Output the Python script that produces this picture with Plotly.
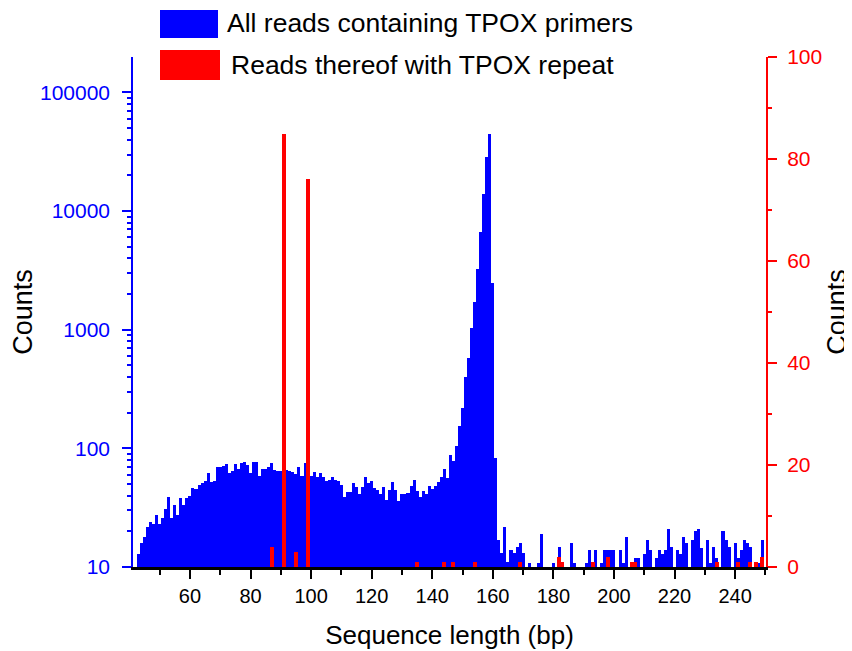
import plotly.graph_objects as go

# ---- data ----
bp_all = list(range(43, 250))
counts_all = [
    12.9, 16, 17.8, 21.8, 23.8, 22.9, 27.7, 22.9, 25.8, 30.9,        # 43-52
    38.7, 25.8, 33.4, 27.7, 37.8, 33.6, 38.5, 39.5, 46.4, 45.4,      # 53-62
    49.5, 51.2, 52.8, 62, 51.8, 52.8, 69, 69, 70.6, 74,               # 63-72
    62, 65, 74, 67, 75, 77, 73, 62, 77, 77,                           # 73-82
    59, 67.5, 67.5, 69, 75, 66, 65, 65, 65, 66,                       # 83-92
    64, 63, 61, 69, 58, 75, 62, 58, 63, 57,                           # 93-102
    62.5, 57, 52.8, 54.6, 57, 54.6, 53.5, 48.8, 39, 43,               # 103-112
    43, 51, 47, 41.6, 47, 57, 51, 52.8, 46.4, 44.3,                   # 113-122
    41.6, 47.3, 37, 44.3, 51.8, 45, 36.3, 41.6, 41, 42,               # 123-132
    48, 54.6, 43.7, 39, 44, 41.3, 48, 45.8, 48, 51.8,                 # 133-142
    57, 67, 56, 88.5, 78, 104, 153, 219, 400, 578,                    # 143-152
    1033, 1698, 3245, 6724, 13970, 28460, 44460, 2473, 83, 17,        # 153-162
    13, 21.8, 11, 13.9, 13, 14.8, 16, 13, None, 10.8,                 # 163-172
    None, None, 10.8, 19, None, None, None, 10.8, None, 14.8,         # 173-182
    10.9, None, None, 16, 10.8, None, None, None, 10.9, 13.9,         # 183-192
    10.9, 13.9, None, 10.9, 13.9, 13.9, 13.9, 13.9, None, 13.9,       # 193-202
    10.9, 18, None, 10.9, 12, 12, None, 12.9, 17, 13.9,               # 203-212
    None, 12, 13.9, 12.9, 13.9, 21, 14.8, None, 13.9, 12.9,           # 213-222
    18, 16, None, 17, 20, 21, 14.5, None, 17, 10.9,                   # 223-232
    14.8, 12, None, 20, 17, 14.8, None, 16, 12, 13.9,                 # 233-242
    17, 16, 14.8, None, 10.9, 10.9, 17,                               # 243-249
]
bp_repeat = [87, 91, 95, 99, 135, 144, 147, 154, 169, 182, 183, 193, 198,
             206, 207, 234, 241, 245, 247, 249]
counts_repeat = [4, 85, 3, 76, 1, 1, 1, 1, 1, 2, 1, 1, 2,
                 1, 1, 1, 1, 1, 1, 2]

log_tickvals = [10, 100, 1000, 10000, 100000]
log_ticktext = ["10", "100", "1000", "10000", "100000"]

name_all = "All reads containing TPOX primers"
name_repeat = "Reads thereof with TPOX repeat"

BLUE = "#0000FF"
RED = "#FF0000"
FONT = "Liberation Sans, Arial, sans-serif"

fig = go.Figure()
fig.add_trace(go.Bar(x=bp_all, y=counts_all, width=1.0, name=name_all,
                     marker=dict(color=BLUE, line=dict(width=0)),
                     yaxis="y"))
fig.add_trace(go.Bar(x=bp_repeat, y=counts_repeat, width=1.3, name=name_repeat,
                     marker=dict(color=RED, line=dict(width=0)),
                     yaxis="y2"))

# page offset of the plot div (body margin)
OFF = 8
W, H = 852 - OFF, 651 - OFF
# plot area in page pixels
PL, PR, PT, PB = 133, 766, 57, 567.5
L, R, T, B = PL - OFF, W - (PR - OFF), PT - OFF, H - (PB - OFF)
pw, ph = PR - PL, PB - PT

def px(x):
    return (x - PL) / pw

def py(y):
    return (PB - y) / ph

fig.update_layout(
    width=W, height=H,
    margin=dict(l=L, r=R, t=T, b=B, autoexpand=False),
    paper_bgcolor="white", plot_bgcolor="white",
    barmode="overlay", bargap=0,
    showlegend=False,
    font=dict(family=FONT, color="black"),
    xaxis=dict(
        range=[41.2, 250.2], tick0=0, dtick=20,
        showgrid=False, zeroline=False,
        showline=True, linecolor="black", linewidth=3,
        ticks="outside", ticklen=9, tickwidth=2, tickcolor="black",
        minor=dict(dtick=10, ticks="outside", ticklen=5, tickwidth=2,
                   tickcolor="black", showgrid=False),
        tickfont=dict(size=20, color="black"),
        title=dict(text="Sequence length (bp)", font=dict(size=26, color="black"),
                   standoff=20),
        automargin=False,
    ),
    yaxis=dict(
        type="log", range=[1, 5.299],
        tickmode="array", tickvals=log_tickvals, ticktext=log_ticktext,
        showgrid=False, zeroline=False,
        showline=True, linecolor=BLUE, linewidth=1.5,
        ticks="outside", ticklen=9, tickwidth=1.5, tickcolor=BLUE,
        minor=dict(dtick="D1", ticks="outside", ticklen=4, tickwidth=1.5,
                   tickcolor=BLUE, showgrid=False),
        tickfont=dict(size=21, color=BLUE),
        ticklabelstandoff=8,
        title=dict(text="Counts", font=dict(size=27, color="black"), standoff=6),
        automargin=False,
    ),
    yaxis2=dict(
        overlaying="y", side="right", range=[0, 100],
        tick0=0, dtick=20,
        showgrid=False, zeroline=False,
        showline=True, linecolor=RED, linewidth=2,
        ticks="outside", ticklen=9, tickwidth=1.5, tickcolor=RED,
        minor=dict(dtick=10, ticks="outside", ticklen=4, tickwidth=1.5,
                   tickcolor=RED, showgrid=False),
        tickfont=dict(size=21, color=RED),
        ticklabelstandoff=6,
        title=dict(text="Counts", font=dict(size=27, color="black"), standoff=8),
        automargin=False,
    ),
    shapes=[
        dict(type="rect", xref="paper", yref="paper",
             x0=px(160), x1=px(218), y0=py(38), y1=py(10),
             fillcolor=BLUE, line=dict(width=0), layer="above"),
        dict(type="rect", xref="paper", yref="paper",
             x0=px(160), x1=px(220), y0=py(80), y1=py(50),
             fillcolor=RED, line=dict(width=0), layer="above"),
    ],
    annotations=[
        dict(text=name_all, xref="paper", yref="paper", x=px(225), y=py(23),
             xanchor="left", yanchor="middle", showarrow=False,
             font=dict(size=26.5, color="black", family=FONT)),
        dict(text=name_repeat, xref="paper", yref="paper", x=px(229), y=py(65),
             xanchor="left", yanchor="middle", showarrow=False,
             font=dict(size=26.5, color="black", family=FONT)),
    ],
)

fig.write_html("out.html")
